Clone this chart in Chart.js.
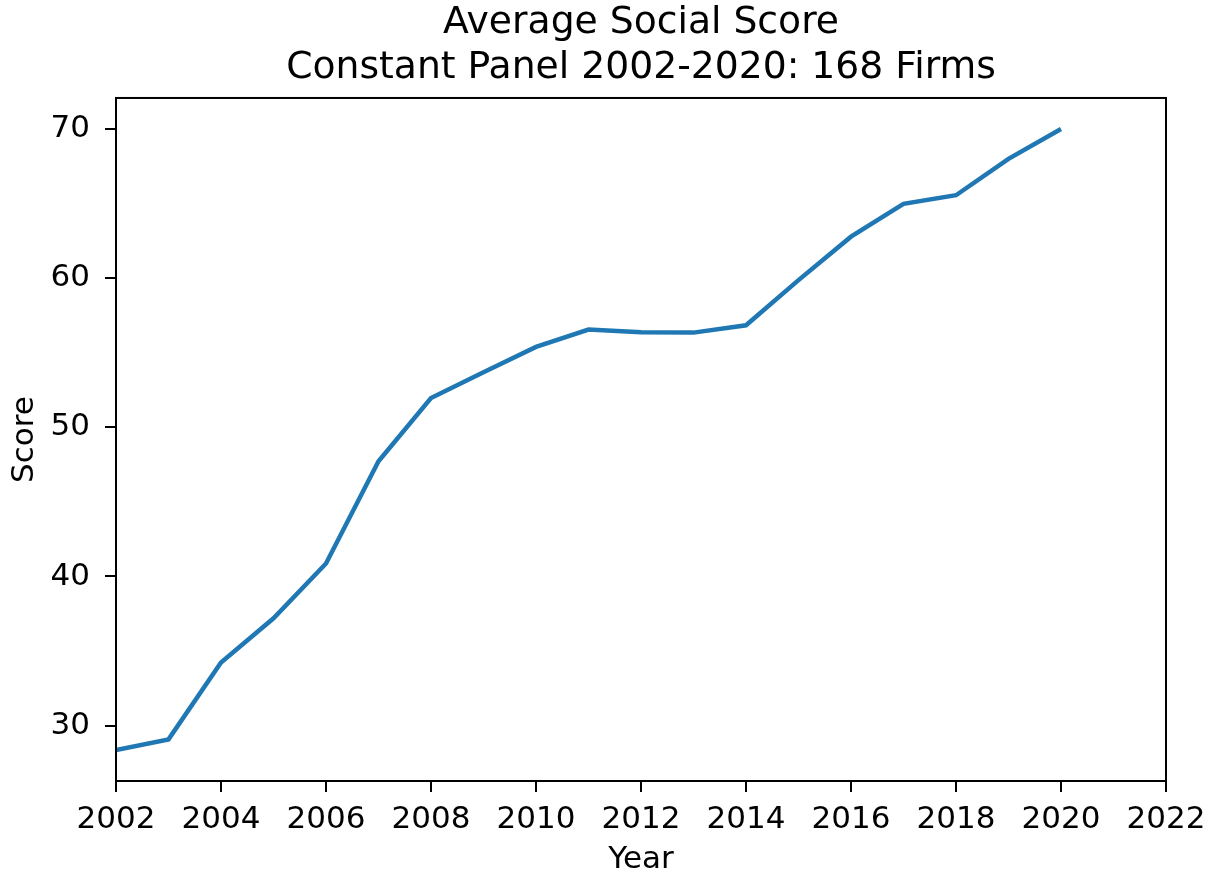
<!DOCTYPE html>
<html>
<head>
<meta charset="utf-8">
<script src="https://cdn.jsdelivr.net/npm/chart.js@4"></script>
<style>
  body { margin: 0; background: #fff; overflow: hidden; }
  #wrap { width: 1217px; height: 877px; }
</style>
</head>
<body>
<div id="wrap"><canvas id="grafik" width="1217" height="877"></canvas></div>
<script>
// data
const tahun = [2002, 2003, 2004, 2005, 2006, 2007, 2008, 2009, 2010, 2011,
               2012, 2013, 2014, 2015, 2016, 2017, 2018, 2019, 2020];
const skor = [28.37, 29.08, 34.23, 37.2, 40.87, 47.72, 51.97, 53.69, 55.39, 56.55,
              56.37, 56.35, 56.84, 59.87, 62.78, 64.98, 65.56, 68.0, 70.0];
const tickY = [30, 40, 50, 60, 70];
const judul = ['Average Social Score', 'Constant Panel 2002-2020: 168 Firms'];
const labelX = 'Year';
const labelY = 'Score';

const fontDasar = "'DejaVu Sans', sans-serif";

// box around the plot area (top + right sides like matplotlib)
const bingkai = {
    id: 'bingkai',
    afterDraw(chart) {
        const a = chart.chartArea, ctx = chart.ctx;
        ctx.save();
        ctx.strokeStyle = '#000';
        ctx.lineWidth = 2;
        ctx.strokeRect(a.left, a.top, a.right - a.left, a.bottom - a.top);
        ctx.restore();
    }
};

new Chart(document.getElementById('grafik').getContext('2d'), {
    type: 'line',
    data: {
        datasets: [{
            data: tahun.map((t, i) => ({ x: t, y: skor[i] })),
            borderColor: '#1f77b4',
            borderWidth: 4.5,
            pointRadius: 0,
            tension: 0,
            fill: false
        }]
    },
    options: {
        responsive: false,
        animation: false,
        layout: { padding: { left: 0, right: 51, top: 0, bottom: 0 } },
        plugins: {
            legend: { display: false },
            tooltip: { enabled: false },
            title: {
                display: true,
                fullSize: false,
                text: judul,
                color: '#000',
                font: { family: fontDasar, size: 37.7, weight: 'normal', lineHeight: 1.18 },
                padding: { top: 1, bottom: 8 }
            }
        },
        scales: {
            x: {
                type: 'linear',
                min: 2002, max: 2022,
                afterFit(s) { s.height = 96; },
                ticks: {
                    stepSize: 2,
                    color: '#000',
                    padding: 9,
                    maxRotation: 0,
                    font: { family: fontDasar, size: 31 },
                    callback: v => String(v)
                },
                grid: { drawOnChartArea: false, drawTicks: true, tickLength: 11, color: '#000', lineWidth: 2 },
                border: { display: true, color: '#000', width: 2 },
                title: {
                    display: true, text: labelX, color: '#000',
                    font: { family: fontDasar, size: 31, lineHeight: 1.1 },
                    padding: { top: 0, bottom: 0 }
                }
            },
            y: {
                min: 26.29, max: 72.08,
                afterFit(s) { s.width = 116; },
                afterBuildTicks(s) {
                    s.ticks = tickY.map(v => ({ value: v }));
                },
                ticks: {
                    color: '#000',
                    padding: 15,
                    font: { family: fontDasar, size: 31 },
                    callback: v => String(v)
                },
                grid: { drawOnChartArea: false, drawTicks: true, tickLength: 11, color: '#000', lineWidth: 2 },
                border: { display: true, color: '#000', width: 2 },
                title: {
                    display: true, text: labelY, color: '#000',
                    font: { family: fontDasar, size: 31, lineHeight: 1.1 },
                    padding: { top: 8, bottom: 0 }
                }
            }
        }
    },
    plugins: [bingkai]
});
</script>
</body>
</html>
